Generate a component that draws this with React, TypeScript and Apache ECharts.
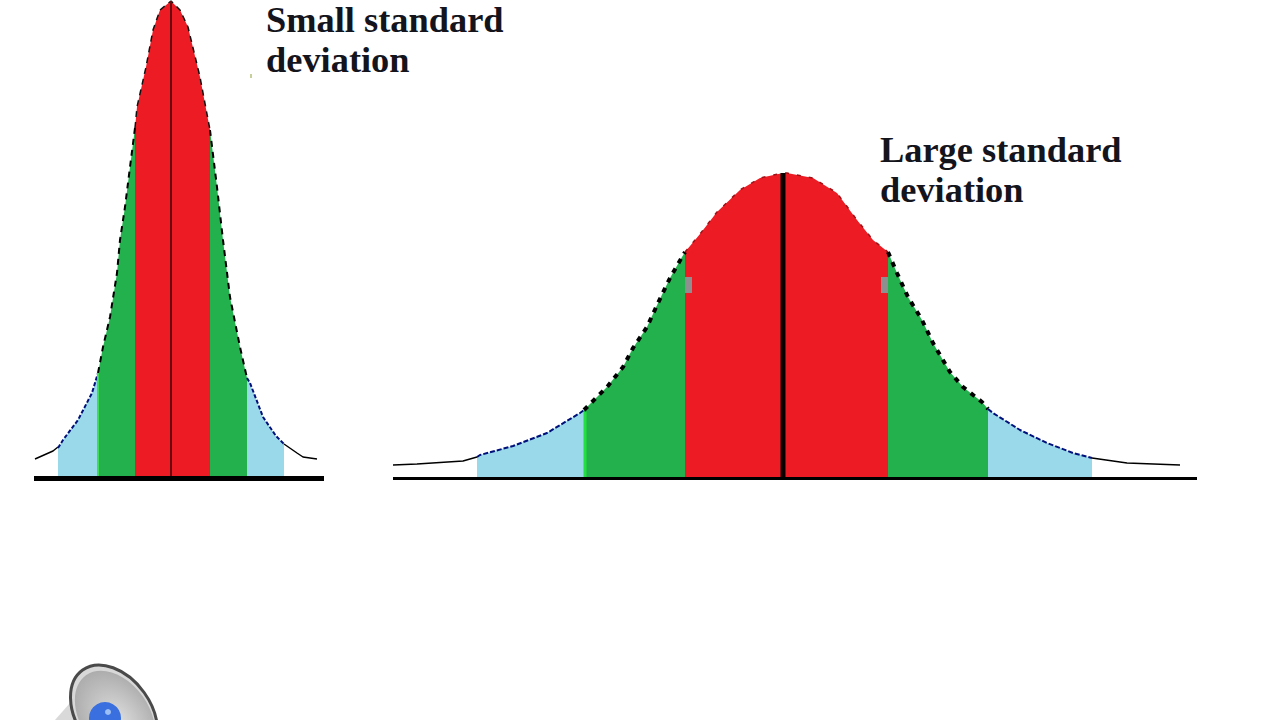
import React, { useEffect, useRef } from "react";
import * as echarts from "echarts";

const RED = "#ED1C24";
const GREEN = "#22B14C";
const BLUE = "#99D9EA";

// Offset from the mean, height above the baseline
const smallTailLeft = [[-136, 19], [-118, 27], [-113, 31]];
const smallBlueLeft = [[-113, 30], [-108, 38], [-93, 58], [-79, 85], [-73, 105]];
const smallGreenLeft = [[-73, 105], [-68, 131], [-61, 161], [-54, 205], [-51, 238], [-46, 271], [-41, 311], [-36, 350]];
const smallRed = [[-36, 350], [-34, 371], [-25, 411], [-18, 448], [-11, 468], [0, 477], [9, 468], [17, 451], [29, 401], [39, 348]];
const smallGreenRight = [[39, 348], [46, 291], [52, 238], [59, 181], [69, 131], [76, 100]];
const smallBlueRight = [[76, 100], [79, 95], [92, 61], [105, 42], [113, 34]];
const smallTailRight = [[113, 34], [126, 25], [132, 21], [146, 19]];

const largeTailLeft = [[-391, 13], [-367, 14], [-321, 17], [-307, 21]];
const largeBlueLeft = [[-307, 21], [-304, 23], [-271, 32], [-237, 45], [-204, 65], [-200, 68]];
const largeGreenLeft = [[-200, 68], [-177, 91], [-161, 111], [-151, 130], [-137, 151], [-126, 175], [-114, 200], [-102, 221], [-99, 226]];
const largeRed = [[-99, 226], [-84, 244], [-67, 266], [-44, 288], [-24, 300], [-1, 305], [3, 305], [29, 300], [53, 285], [73, 258], [89, 238], [104, 226]];
const largeGreenRight = [[104, 226], [113, 205], [124, 181], [138, 158], [149, 135], [166, 106], [179, 91], [198, 76], [204, 69]];
const largeBlueRight = [[204, 69], [209, 65], [236, 48], [263, 35], [289, 25], [308, 20]];
const largeTailRight = [[308, 20], [343, 15], [396, 13]];

const labelSmall = "Small standard\ndeviation";
const labelLarge = "Large standard\ndeviation";

function area(data: number[][], color: string, idx: number) {
  return {
    type: "line", data, xAxisIndex: idx, yAxisIndex: idx, symbol: "none", z: 2,
    lineStyle: { width: 0, color }, itemStyle: { color },
    areaStyle: { color, opacity: 1 },
  };
}
function stroke(data: number[][], color: string, width: number, idx: number, type: any = "solid") {
  return {
    type: "line", data, xAxisIndex: idx, yAxisIndex: idx, symbol: "none", z: 4,
    lineStyle: { width, color, type, cap: "butt" }, itemStyle: { color },
  };
}
const axisX = (gridIndex: number, min: number, max: number, width: number) => ({
  type: "value", gridIndex, min, max, splitLine: { show: false }, axisTick: { show: false },
  axisLabel: { show: false },
  axisLine: { show: true, onZero: false, lineStyle: { color: "#000", width, cap: "butt" } }, z: 6,
});
const axisY = (gridIndex: number) => ({ type: "value", gridIndex, min: 0, max: 478, show: false, splitLine: { show: false } });

const textStyle = (text: string) => ({
  text, fontFamily: "'Liberation Serif', serif", fontSize: 36.4, fontWeight: "bold", lineHeight: 40, fill: "#14141c",
});

export default function App() {
  const ref = useRef<HTMLDivElement>(null);
  useEffect(() => {
    document.body.style.margin = "0";
    const chart = echarts.init(ref.current!, null, { renderer: "svg" });
    chart.setOption({
      animation: false,
      backgroundColor: "#ffffff",
      grid: [
        { left: 34, top: 0, width: 290, height: 478 },
        { left: 393, top: 0, width: 804, height: 478 },
      ],
      xAxis: [axisX(0, -137, 153, 5), axisX(1, -391, 413, 3)],
      yAxis: [axisY(0), axisY(1)],
      series: [
        area(smallBlueLeft, BLUE, 0), area(smallGreenLeft, GREEN, 0), area(smallRed, RED, 0),
        area(smallGreenRight, GREEN, 0), area(smallBlueRight, BLUE, 0),
        stroke(smallTailLeft, "#000", 1.5, 0), stroke(smallBlueLeft, "#00107a", 2, 0, [4, 2]),
        stroke(smallGreenLeft, "#000", 2, 0, [6, 5]), stroke(smallRed, "#111", 1.5, 0, [6, 5]),
        stroke(smallGreenRight, "#000", 2, 0, [6, 5]), stroke(smallBlueRight, "#00107a", 2, 0, [4, 2]),
        stroke(smallTailRight, "#000", 1.5, 0),
        stroke([[0, 0], [0, 477]], "#6b0a0e", 2, 0),
        stroke([[-73, 0], [-73, 105]], "#3fdc55", 2, 0),

        area(largeBlueLeft, BLUE, 1), area(largeGreenLeft, GREEN, 1), area(largeRed, RED, 1),
        area(largeGreenRight, GREEN, 1), area(largeBlueRight, BLUE, 1),
        stroke(largeTailLeft, "#000", 1.5, 1), stroke(largeBlueLeft, "#00107a", 2, 1, [5, 2]),
        stroke(largeGreenLeft, "#000", 4, 1, [5, 6]), stroke(largeRed, "#a01016", 1.5, 1, [4, 8]),
        stroke(largeGreenRight, "#000", 4, 1, [5, 6]), stroke(largeBlueRight, "#00107a", 2, 1, [5, 2]),
        stroke(largeTailRight, "#000", 1.5, 1),
        stroke([[-1, 0], [-1, 305]], "#0a0000", 5, 1),
        stroke([[-199, 0], [-199, 66]], "#22e040", 3, 1),
      ],
      graphic: [
        { type: "text", left: 266, top: 0, z: 10, style: textStyle(labelSmall) },
        { type: "text", left: 880, top: 130, z: 10, style: textStyle(labelLarge) },
        { type: "rect", shape: { x: 685, y: 277, width: 7, height: 16 }, style: { fill: "#8f8f8f" }, z: 9 },
        { type: "rect", shape: { x: 881, y: 277, width: 7, height: 16 }, style: { fill: "#8f8f8f" }, z: 9 },
        { type: "rect", shape: { x: 250, y: 74, width: 2, height: 4 }, style: { fill: "#c9cf9a" }, z: 9 },
        // loudspeaker icon, cut by the bottom of the page
        { type: "polygon", shape: { points: [[55, 720], [70, 703], [90, 720]] }, style: { fill: "#d9d9d9" }, z: 9 },
        {
          type: "ellipse", x: 114, y: 714, rotation: 0.62, z: 10,
          shape: { cx: 0, cy: 0, rx: 37, ry: 54 },
          style: { stroke: "#4a4a4a", lineWidth: 3, fill: "#d8d8d8" },
        },
        {
          type: "ellipse", x: 115, y: 716, rotation: 0.62, z: 10,
          shape: { cx: 0, cy: 0, rx: 34, ry: 50 },
          style: {
            fill: { type: "radial", x: 0.5, y: 0.55, r: 0.6, colorStops: [{ offset: 0, color: "#dedede" }, { offset: 1, color: "#a8a8a8" }] },
          },
        },
        { type: "circle", shape: { cx: 105, cy: 718, r: 16 }, style: { fill: "#3a6fe0" }, z: 11 },
        { type: "circle", shape: { cx: 108, cy: 712, r: 3 }, style: { fill: "#9cc0f5" }, z: 12 },
      ],
    });
    return () => chart.dispose();
  }, []);
  return <div ref={ref} style={{ position: "absolute", left: 0, top: 0, width: 1280, height: 720 }} />;
}
